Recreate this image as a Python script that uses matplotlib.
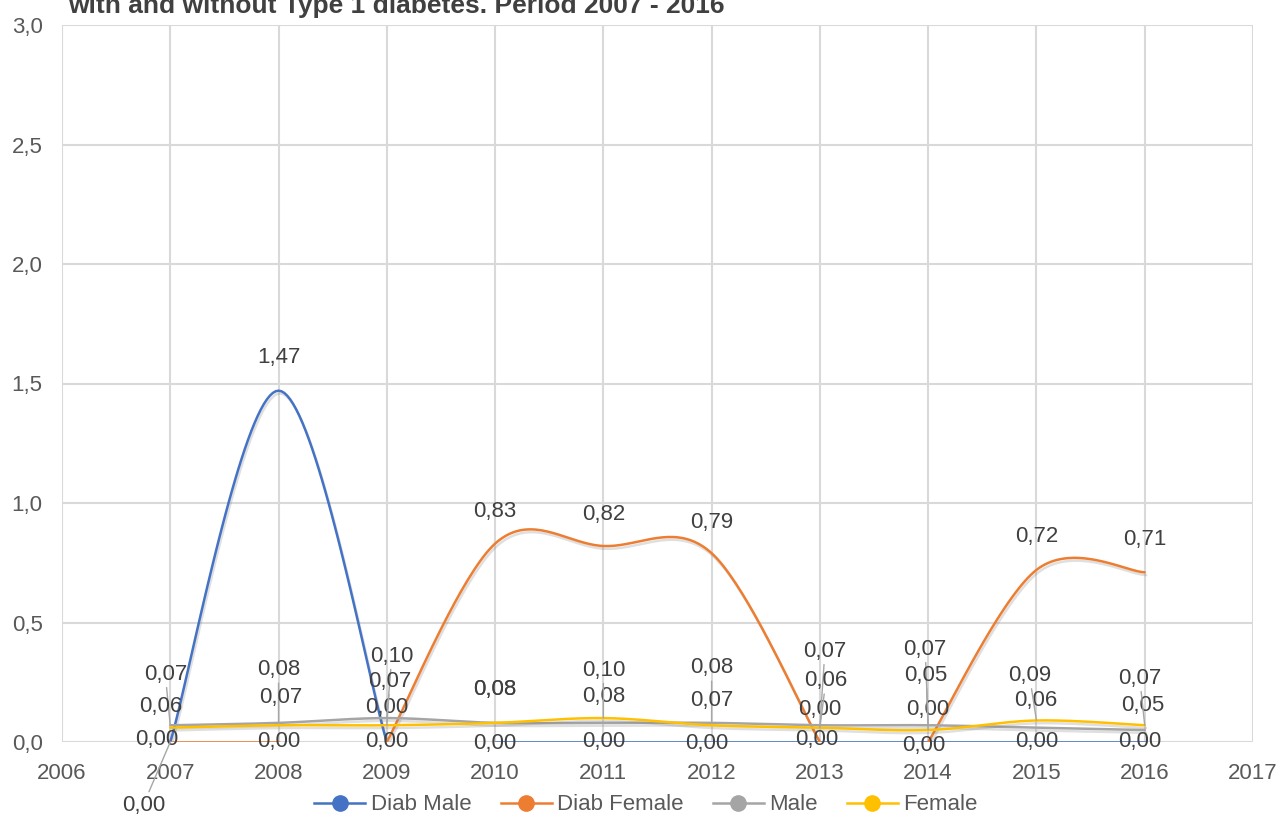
import matplotlib
matplotlib.use('Agg')
import matplotlib.pyplot as plt
import matplotlib.patheffects as pe
from matplotlib.lines import Line2D
from matplotlib.ticker import MultipleLocator, FuncFormatter
import numpy as np

# Data
years = [2007, 2008, 2009, 2010, 2011, 2012, 2013, 2014, 2015, 2016]
diab_male = [0.00, 1.47, 0.00, 0.00, 0.00, 0.00, 0.00, 0.00, 0.00, 0.00]
diab_female = [0.00, 0.00, 0.00, 0.83, 0.82, 0.79, 0.00, 0.00, 0.72, 0.71]
male = [0.07, 0.08, 0.10, 0.08, 0.08, 0.08, 0.07, 0.07, 0.06, 0.05]
female = [0.06, 0.07, 0.07, 0.08, 0.10, 0.07, 0.06, 0.05, 0.09, 0.07]
series_names = ['Diab Male', 'Diab Female', 'Male', 'Female']
title = 'with and without Type 1 diabetes. Period 2007 - 2016'

# Style / layout
colors = ['#4472C4', '#ED7D31', '#A5A5A5', '#FFC000']
# index ranges of the connected pieces of each line
segments = [[(0, 3), (3, 10)],
            [(0, 2), (2, 7), (7, 10)],
            [(0, 10)],
            [(0, 10)]]
# label offsets in pixels (dx, dy) from each point
label_dx = [[-14, 0, 0, 0, 0, -5, -3, -4, 0, -5],
            [-27, 0, 0, 0, 0, 0, 0, 0, 0, 0],
            [-5, 0, 5, 0, 0, 0, 5, -3, -1, -2],
            [-10, 2, 3, 0, 0, 0, 6, -2, -7, -5]]
label_dy = [[2, 33, 0, -2, 0, -2, 3, -3, 0, 1],
            [-63, 0, 34, 32, 32, 31, 33, 33, 33, 33],
            [51, 53, 62, 33, 26, 55, 74, 76, 27, 25],
            [21, 28, 44, 33, 48, 25, 47, 55, 45, 47]]

plt.rcParams['font.family'] = ['Liberation Sans Narrow', 'Liberation Sans', 'DejaVu Sans']
fs = 16
txt_col = '#595959'
lab_col = '#404040'


def smooth(xs, ys, n=40):
    # Bezier smoothing through the points (Excel-style smoothed line)
    xs = np.asarray(xs, float)
    ys = np.asarray(ys, float)
    if len(xs) < 3:
        return xs, ys
    px, py = [], []
    m = len(xs)
    t = np.linspace(0, 1, n)
    for i in range(m - 1):
        i0 = max(i - 1, 0)
        i3 = min(i + 2, m - 1)
        c1x = xs[i] + (xs[i + 1] - xs[i0]) / 6
        c1y = ys[i] + (ys[i + 1] - ys[i0]) / 6
        c2x = xs[i + 1] - (xs[i3] - xs[i]) / 6
        c2y = ys[i + 1] - (ys[i3] - ys[i]) / 6
        bx = (1-t)**3*xs[i] + 3*(1-t)**2*t*c1x + 3*(1-t)*t**2*c2x + t**3*xs[i+1]
        by = (1-t)**3*ys[i] + 3*(1-t)**2*t*c1y + 3*(1-t)*t**2*c2y + t**3*ys[i+1]
        px.extend(bx)
        py.extend(by)
    return np.array(px), np.array(py)


fig = plt.figure(figsize=(12.8, 8.19), dpi=100)
ax = fig.add_axes([62/1280, 1-742/819, (1253-62)/1280, (742-25)/819])

shadow = [pe.SimpleLineShadow(offset=(1, -2), shadow_color='#808080', alpha=0.25, rho=1), pe.Normal()]

all_series = [diab_male, diab_female, male, female]
for k, vals in enumerate(all_series):
    for a, b in segments[k]:
        sx, sy = smooth(years[a:b], vals[a:b])
        ax.plot(sx, sy, '-', color=colors[k], lw=1.8, zorder=3 + k * 0.1, path_effects=shadow,
                solid_capstyle='round')

for k, vals in enumerate(all_series):
    for i, (yr, v) in enumerate(zip(years, vals)):
        dx, dy = label_dx[k][i], label_dy[k][i]
        props = None
        if np.hypot(dx, dy) > 40:
            props = dict(arrowstyle='-', color='#A6A6A6', lw=1.0, shrinkA=0, shrinkB=0)
        ax.annotate(f'{v:.2f}'.replace('.', ','), xy=(yr, v), xytext=(dx, dy),
                    textcoords='offset pixels', ha='center', va='center',
                    fontsize=fs, color=lab_col, arrowprops=props, zorder=5,
                    annotation_clip=False)

ax.set_xlim(2006, 2017)
ax.set_ylim(0, 3.0)
ax.xaxis.set_major_locator(MultipleLocator(1))
ax.yaxis.set_major_locator(MultipleLocator(0.5))
ax.yaxis.set_major_formatter(FuncFormatter(lambda v, p: f'{v:.1f}'.replace('.', ',')))
ax.xaxis.set_major_formatter(FuncFormatter(lambda v, p: f'{int(round(v))}'))
ax.grid(True, color='#D9D9D9', lw=1.5, zorder=0)
ax.set_axisbelow(True)
for s in ax.spines.values():
    s.set_visible(False)
ax.tick_params(length=0, labelsize=fs, colors=txt_col, pad=15)
ax.tick_params(axis='y', pad=14)

handles = [Line2D([], [], color=c, lw=1.8, marker='o', markersize=11, markeredgecolor=c)
           for c in colors]
fig.legend(handles, series_names, loc='center', bbox_to_anchor=(646/1280, 1-805/819),
           ncol=4, frameon=False, fontsize=fs, handlelength=2.3, handletextpad=0.25,
           columnspacing=1.3, labelcolor=txt_col)

fig.text(68/1280, 1-13/819, title, fontsize=19, fontweight='bold', color=lab_col,
         va='baseline', ha='left')

fig.savefig('out.png', dpi=100)
